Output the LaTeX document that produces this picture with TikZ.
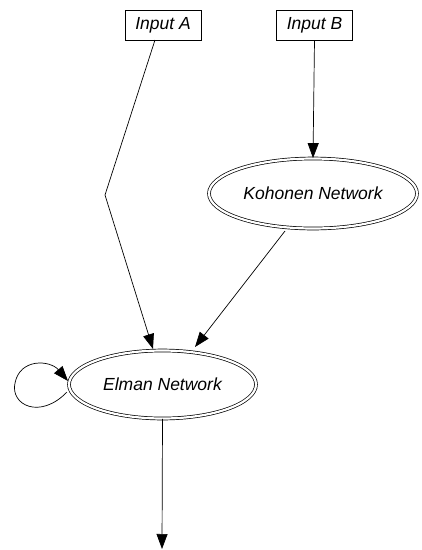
\documentclass[tikz,border=0pt]{standalone}
\usepackage{fontspec}
\setmainfont{Liberation Sans}
\usetikzlibrary{shapes.geometric,arrows.meta}
\begin{document}
\begin{tikzpicture}[x=1pt,y=-1pt,
  every node/.style={font=\fontsize{17.5}{20}\selectfont\itshape},
  inbox/.style={draw,line width=0.8pt,minimum width=76pt,minimum height=30pt,inner sep=0pt},
  net/.style={ellipse,draw,double,double distance=2.2pt,line width=0.7pt,inner sep=0pt},
  edge/.style={line width=0.7pt,-{Triangle[length=15pt,width=11pt]}}]
\useasboundingbox (0,0) rectangle (422,550);
\node[inbox] (a) at (163,25) {Input A};
\node[inbox] (b) at (314.5,25) {Input B};
\node[net,minimum width=208pt,minimum height=70pt] (k) at (313,193.5) {Kohonen Network};
\node[net,minimum width=187pt,minimum height=68pt] (e) at (162.5,384.5) {Elman Network};
\coordinate (bend) at (105,195);
\coordinate (out) at (162,549);
\draw[edge] (155,40) -- (bend) -- (153,349);
\draw[edge] (b.south) -- (k.north);
\draw[edge] (285,231) -- (195,347);
\draw[edge] (e.south) -- (out);
\draw[edge] (67,392) .. controls (40,420) and (10,405) .. (15,383) .. controls (20,358) and (50,360) .. (68,381);
\end{tikzpicture}
\end{document}
